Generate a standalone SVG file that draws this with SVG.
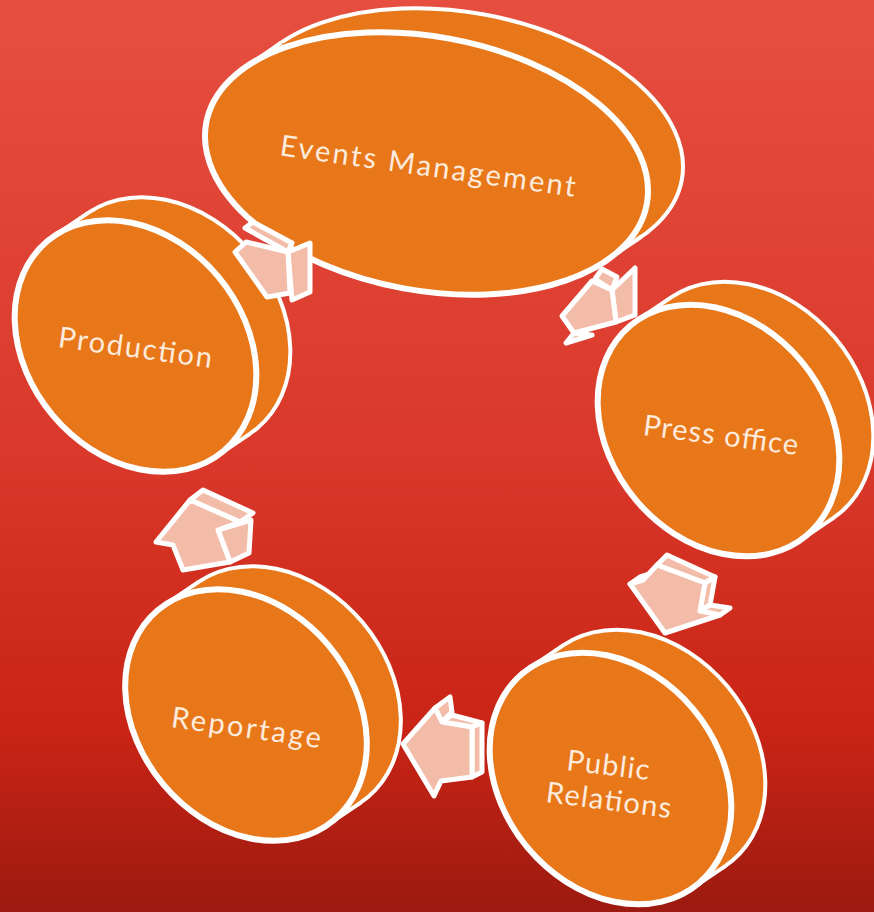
<svg xmlns="http://www.w3.org/2000/svg" xmlns:xlink="http://www.w3.org/1999/xlink" width="874" height="912" viewBox="0 0 874 912">
<style>
.back{fill:#E8771A;stroke:#FFFFFF;stroke-width:4}
.band{fill:#E8771A;stroke:none}
.edge{fill:none;stroke:#FFFFFF;stroke-width:4}
.front{fill:#E8771A;stroke:#FFFFFF;stroke-width:6}
.lbl{font-family:Lato,"Liberation Sans",sans-serif;font-size:29px;fill:#FDEBDD;text-anchor:middle}
.arr{fill:#F2BCA9;stroke:#FFFFFF;stroke-width:5;stroke-linejoin:round}
</style>
<defs>
<linearGradient id="bg" x1="0" y1="0" x2="0" y2="1">
<stop offset="0" stop-color="#E64F40"/>
<stop offset="0.5" stop-color="#D9382A"/>
<stop offset="0.8" stop-color="#C92415"/>
<stop offset="1" stop-color="#9C1A10"/>
</linearGradient>
<ellipse id="disc" cx="0" cy="0" rx="137" ry="108" transform="rotate(50)"/>
<ellipse id="evt" cx="0" cy="0" rx="224" ry="127" transform="rotate(10.4)"/>
</defs>
<rect x="0" y="0" width="874" height="912" fill="url(#bg)"/>

<g id="production">
<use xlink:href="#disc" x="169.5" y="323" class="back"/>
<path class="band" d="M216.5,456.3 L250.5,433.3 L88.5,212.7 L54.5,235.7 Z"/>
<path class="edge" d="M216.5,456.3 L250.5,433.3 M54.5,235.7 L88.5,212.7"/>
<use xlink:href="#disc" x="135.5" y="346" class="front"/>
<text class="lbl" transform="translate(134,357.5) rotate(7.8)" textLength="155" lengthAdjust="spacing">Production</text>
</g>

<g id="events">
<use xlink:href="#evt" x="461.5" y="139.5" class="back"/>
<path class="band" d="M606.5,260.5 L641.5,236.5 L281.5,42.5 L246.5,66.5 Z"/>
<path class="edge" d="M606.5,260.5 L641.5,236.5 M246.5,66.5 L281.5,42.5"/>
<use xlink:href="#evt" x="426.5" y="163.5" class="front"/>
<text class="lbl" transform="translate(426.5,176) rotate(8)" textLength="298" lengthAdjust="spacing">Events Management</text>
</g>

<g id="press-office">
<use xlink:href="#disc" x="752.5" y="407.5" class="back"/>
<path class="band" d="M799.5,540.8 L833.5,517.8 L671.5,297.2 L637.5,320.2 Z"/>
<path class="edge" d="M799.5,540.8 L833.5,517.8 M637.5,320.2 L671.5,297.2"/>
<use xlink:href="#disc" x="718.5" y="430.5" class="front"/>
<text class="lbl" transform="translate(719.5,445) rotate(7.4)" textLength="156" lengthAdjust="spacing">Press office</text>
</g>

<g id="public-relations">
<use xlink:href="#disc" x="644.5" y="755.5" class="back"/>
<path class="band" d="M691.5,888.8 L725.5,865.8 L563.5,645.2 L529.5,668.2 Z"/>
<path class="edge" d="M691.5,888.8 L725.5,865.8 M529.5,668.2 L563.5,645.2"/>
<use xlink:href="#disc" x="610.5" y="778.5" class="front"/>
<text class="lbl" transform="translate(607,775) rotate(7)" textLength="83" lengthAdjust="spacing">Public</text>
<text class="lbl" transform="translate(607.5,810) rotate(7.3)" textLength="126" lengthAdjust="spacing">Relations</text>
</g>

<g id="reportage">
<use xlink:href="#disc" x="280" y="692" class="back"/>
<path class="band" d="M327,825.3 L361,802.3 L199,581.7 L165,604.7 Z"/>
<path class="edge" d="M327,825.3 L361,802.3 M165,604.7 L199,581.7"/>
<use xlink:href="#disc" x="246" y="715" class="front"/>
<text class="lbl" transform="translate(245,737.5) rotate(8)" textLength="151" lengthAdjust="spacing">Reportage</text>
</g>

<g id="connectors">
<g id="arrow-production-events">
<polygon class="arr" points="245,228 253,222 292,243 288,252"/>
<polygon class="arr" points="288,252 310,243 310,292 292,300"/>
<polygon class="arr" points="235,252 246,242 288,252 290,293 267,297"/>
</g>
<g id="arrow-events-press">
<polygon class="arr" points="595,279 602,269 617,277 612,290"/>
<polygon class="arr" points="612,290 635,268 635,315 616,322"/>
<polygon class="arr" points="574,333 566,343 592,335"/>
<polygon class="arr" points="562,316 592,281 612,290 616,322 574,333"/>
</g>
<g id="arrow-press-public">
<polygon class="arr" points="657,565 667,555 715,577 705,583"/>
<polygon class="arr" points="705,583 715,577 710,605 700,611"/>
<polygon class="arr" points="700,611 710,605 730,608 720,615"/>
<polygon class="arr" points="630,584 640,577 653,573 643,580"/>
<polygon class="arr" points="657,565 705,583 700,611 720,615 665,633 630,584 643,580"/>
</g>
<g id="arrow-public-reportage">
<polygon class="arr" points="435,708 450,697 452,712 442,722"/>
<polygon class="arr" points="442,722 452,715 482,723 472,727"/>
<polygon class="arr" points="472,727 482,723 482,772 472,777"/>
<polygon class="arr" points="403,744 435,708 442,722 472,727 472,777 441,781 434,796"/>
</g>
<g id="arrow-reportage-production">
<polygon class="arr" points="190,500 203,490 253,513 240,522"/>
<polygon class="arr" points="218,530 251,520 249,553 230,562"/>
<polygon class="arr" points="190,500 240,522 218,530 230,562 183,570 173,545 156,542"/>
</g>
</g>
</svg>
